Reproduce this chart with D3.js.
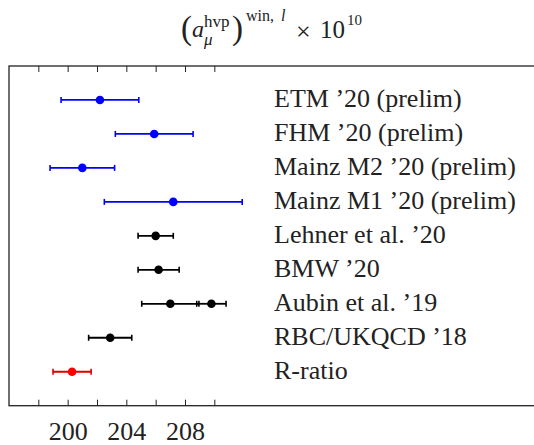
<!DOCTYPE html>
<html>
<head>
<meta charset="utf-8">
<script src="https://cdn.jsdelivr.net/npm/d3@7"></script>
<style>
  html, body { margin: 0; padding: 0; background: #fff; }
  svg { display: block; }
  text { font-family: "Liberation Serif", "DejaVu Serif", serif; fill: #222; }
</style>
</head>
<body>
<svg id="chart" width="534" height="445"></svg>
<script>
// Window contribution to the muon HVP, one row per determination (top to bottom)
const labels = [
  "ETM ’20 (prelim)",
  "FHM ’20 (prelim)",
  "Mainz M2 ’20 (prelim)",
  "Mainz M1 ’20 (prelim)",
  "Lehner et al. ’20",
  "BMW ’20",
  "Aubin et al. ’19",
  "RBC/UKQCD ’18",
  "R-ratio"
];
const centers = [202.2, 205.9, 201.0, 207.2, 206.0, 206.2, 207.0, 202.9, 200.3];
const errors  = [2.65, 2.65, 2.2, 4.7, 1.2, 1.4, 1.95, 1.47, 1.3];
const kinds   = ["prelim", "prelim", "prelim", "prelim", "lattice", "lattice", "lattice", "lattice", "pheno"];

// Aubin et al. quote a second value on the same row
const extraRow = "Aubin et al. ’19";
const extraCenter = 209.8;
const extraError = 1.0;

const tickValues = [198, 200, 202, 204, 206, 208, 210];
const tickLabels = ["", "200", "", "204", "", "208", ""];

const barColor = { prelim: "#0000ff", lattice: "#000000", pheno: "#dd0000" };
const dotColor = { prelim: "#0000ff", lattice: "#000000", pheno: "#ff0000" };

const svg = d3.select("#chart");

const x = d3.scaleLinear().domain([196, 232]).range([9, 537]);
const y = d3.scaleLinear().domain([0, 10]).range([405.7, 66]);
const rowPos = i => labels.length - i;

const points = centers.map((c, i) => ({ row: rowPos(i), value: c, err: errors[i], kind: kinds[i] }));
const ei = labels.indexOf(extraRow);
points.push({ row: rowPos(ei), value: extraCenter, err: extraError, kind: kinds[ei] });

// frame (right edge runs past the canvas)
svg.append("rect")
  .attr("x", x(196)).attr("y", y(10))
  .attr("width", x(232) - x(196)).attr("height", y(0) - y(10))
  .attr("fill", "none").attr("stroke", "#222").attr("stroke-width", 1.3);

// inward ticks on top and bottom
const fmt = (d) => tickLabels[tickValues.indexOf(d)];
const gTop = svg.append("g").attr("transform", `translate(0,${y(10)})`)
  .call(d3.axisTop(x).tickValues(tickValues).tickSize(-6).tickFormat(() => ""));
const gBot = svg.append("g").attr("transform", `translate(0,${y(0)})`)
  .call(d3.axisBottom(x).tickValues(tickValues).tickSize(-6).tickFormat(fmt));
[gTop, gBot].forEach(g => {
  g.select(".domain").remove();
  g.selectAll(".tick line").attr("stroke", "#222").attr("stroke-width", 1);
});
gBot.selectAll(".tick text")
  .attr("font-family", "Liberation Serif").attr("font-size", 26).attr("fill", "#222")
  .attr("dy", 0).attr("y", 440.5 - y(0));

// error bars
const bars = svg.append("g");
points.forEach(p => {
  const yy = y(p.row), c = barColor[p.kind];
  const lo = x(p.value - p.err), hi = x(p.value + p.err);
  bars.append("line").attr("x1", lo).attr("x2", hi).attr("y1", yy).attr("y2", yy)
    .attr("stroke", c).attr("stroke-width", 1.8);
  [lo, hi].forEach(xx => bars.append("line")
    .attr("x1", xx).attr("x2", xx).attr("y1", yy - 3).attr("y2", yy + 3)
    .attr("stroke", c).attr("stroke-width", 1.6));
});
svg.append("g").selectAll("circle").data(points).join("circle")
  .attr("cx", d => x(d.value)).attr("cy", d => y(d.row)).attr("r", 4.3)
  .attr("fill", d => dotColor[d.kind]);

// row labels
svg.append("g").selectAll("text").data(labels).join("text")
  .attr("x", 274).attr("y", (d, i) => y(rowPos(i)) + 7)
  .attr("font-size", 26).text(d => d);

// title: (a_mu^hvp)^{win,l} x 10^10
const t = svg.append("g");
const put = (s, xx, yy, size, italic) => t.append("text")
  .attr("x", xx).attr("y", yy).attr("font-size", size)
  .attr("font-style", italic ? "italic" : "normal").text(s);
put("(", 181, 39, 33, false);
put("a", 192, 37, 24, true);
put("hvp", 204, 27, 17, false);
put("μ", 204, 45, 17, true);
put(")", 232, 39, 33, false);
put("win,", 246, 21, 16, false);
put("l", 281, 21, 16, true);
put("×", 296, 40, 26, false);
put("10", 320, 38, 25, false);
put("10", 347, 25, 15, false);
</script>
</body>
</html>
